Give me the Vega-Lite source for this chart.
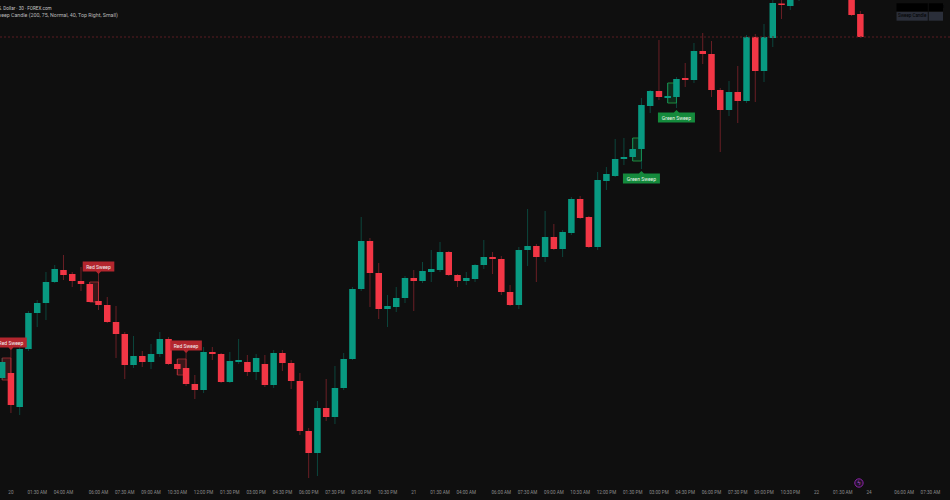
{
  "$schema": "https://vega.github.io/schema/vega-lite/v6.json",
  "width": 950,
  "height": 480,
  "autosize": {"type": "none"},
  "padding": {"left": 0, "top": 0, "right": 0, "bottom": 20},
  "background": "#0f0f0f",
  "config": {"view": {"stroke": null}, "font": "Roboto"},
  "title": {
    "text": "U.S. Dollar · 30 · FOREX.com",
    "subtitle": "Sweep Candle (200, 75, Normal, 40, Top Right, Small)",
    "anchor": "start", "frame": "group", "orient": "top", "offset": -23.5, "dx": -6,
    "fontSize": 4.6, "subtitleFontSize": 5.3, "subtitlePadding": 3, "font": "Roboto", "subtitleFont": "Roboto",
    "fontWeight": "normal", "color": "#c8c8c8", "subtitleColor": "#b8b8b8", "baseline": "bottom"
  },
  "datasets": {
    "candles": [
      {"i":-1,"o":102,"h":122,"l":100,"c":118},
      {"i":0,"o":107,"h":131,"l":67,"c":75},
      {"i":1,"o":73,"h":135,"l":65,"c":131},
      {"i":2,"o":131,"h":169,"l":129,"c":167},
      {"i":3,"o":167,"h":180,"l":153,"c":177},
      {"i":4,"o":177,"h":208,"l":160,"c":198},
      {"i":5,"o":198,"h":215,"l":197,"c":211},
      {"i":6,"o":210,"h":225,"l":200,"c":205},
      {"i":7,"o":206,"h":208,"l":193,"c":199},
      {"i":8,"o":199,"h":213,"l":189,"c":196},
      {"i":9,"o":196,"h":198,"l":178,"c":178},
      {"i":10,"o":179,"h":207,"l":170,"c":175},
      {"i":11,"o":175,"h":183,"l":157,"c":158},
      {"i":12,"o":158,"h":174,"l":122,"c":146},
      {"i":13,"o":146,"h":148,"l":101,"c":115},
      {"i":14,"o":115,"h":144,"l":112,"c":124},
      {"i":15,"o":124,"h":129,"l":113,"c":118},
      {"i":16,"o":118,"h":136,"l":111,"c":126},
      {"i":17,"o":126,"h":148,"l":123,"c":141},
      {"i":18,"o":141,"h":143,"l":115,"c":116},
      {"i":19,"o":116,"h":121,"l":105,"c":111},
      {"i":20,"o":112,"h":128,"l":94,"c":96},
      {"i":21,"o":96,"h":105,"l":81,"c":90},
      {"i":22,"o":90,"h":133,"l":87,"c":128},
      {"i":23,"o":128,"h":133,"l":120,"c":126},
      {"i":24,"o":126,"h":127,"l":97,"c":98},
      {"i":25,"o":98,"h":128,"l":97,"c":119},
      {"i":26,"o":118,"h":141,"l":116,"c":120},
      {"i":27,"o":118,"h":125,"l":104,"c":108},
      {"i":28,"o":108,"h":126,"l":100,"c":122},
      {"i":29,"o":116,"h":125,"l":93,"c":95},
      {"i":30,"o":95,"h":130,"l":92,"c":127},
      {"i":31,"o":127,"h":130,"l":109,"c":117},
      {"i":32,"o":117,"h":120,"l":91,"c":99},
      {"i":33,"o":99,"h":107,"l":45,"c":49},
      {"i":34,"o":49,"h":52,"l":2,"c":27},
      {"i":35,"o":27,"h":79,"l":4,"c":72},
      {"i":36,"o":72,"h":101,"l":59,"c":63},
      {"i":37,"o":63,"h":114,"l":56,"c":92},
      {"i":38,"o":92,"h":127,"l":90,"c":121},
      {"i":39,"o":121,"h":193,"l":120,"c":191},
      {"i":40,"o":191,"h":263,"l":189,"c":239},
      {"i":41,"o":239,"h":242,"l":173,"c":207},
      {"i":42,"o":207,"h":217,"l":161,"c":171},
      {"i":43,"o":171,"h":185,"l":153,"c":174},
      {"i":44,"o":173,"h":193,"l":168,"c":182},
      {"i":45,"o":182,"h":204,"l":177,"c":202},
      {"i":46,"o":202,"h":210,"l":169,"c":199},
      {"i":47,"o":199,"h":218,"l":197,"c":209},
      {"i":48,"o":208,"h":230,"l":198,"c":211},
      {"i":49,"o":210,"h":238,"l":208,"c":228},
      {"i":50,"o":228,"h":229,"l":204,"c":205},
      {"i":51,"o":205,"h":206,"l":193,"c":199},
      {"i":52,"o":199,"h":208,"l":195,"c":202},
      {"i":53,"o":201,"h":216,"l":198,"c":215},
      {"i":54,"o":215,"h":240,"l":211,"c":223},
      {"i":55,"o":223,"h":228,"l":206,"c":221},
      {"i":56,"o":221,"h":224,"l":185,"c":188},
      {"i":57,"o":188,"h":195,"l":174,"c":175},
      {"i":58,"o":175,"h":233,"l":171,"c":230},
      {"i":59,"o":230,"h":271,"l":214,"c":234},
      {"i":60,"o":234,"h":236,"l":198,"c":223},
      {"i":61,"o":223,"h":269,"l":218,"c":243},
      {"i":62,"o":243,"h":256,"l":230,"c":231},
      {"i":63,"o":231,"h":250,"l":223,"c":248},
      {"i":64,"o":247,"h":283,"l":245,"c":281},
      {"i":65,"o":281,"h":284,"l":261,"c":262},
      {"i":66,"o":263,"h":264,"l":232,"c":233},
      {"i":67,"o":233,"h":308,"l":230,"c":300},
      {"i":68,"o":299,"h":313,"l":290,"c":306},
      {"i":69,"o":304,"h":341,"l":303,"c":321},
      {"i":70,"o":321,"h":342,"l":315,"c":323},
      {"i":71,"o":323,"h":342,"l":319,"c":331},
      {"i":72,"o":331,"h":382,"l":311,"c":375},
      {"i":73,"o":374,"h":390,"l":367,"c":389},
      {"i":74,"o":389,"h":440,"l":380,"c":383},
      {"i":75,"o":382,"h":397,"l":377,"c":384},
      {"i":76,"o":383,"h":403,"l":372,"c":401},
      {"i":77,"o":402,"h":417,"l":393,"c":400},
      {"i":78,"o":400,"h":437,"l":397,"c":429},
      {"i":79,"o":429,"h":447,"l":416,"c":426},
      {"i":80,"o":426,"h":439,"l":383,"c":390},
      {"i":81,"o":390,"h":392,"l":328,"c":370},
      {"i":82,"o":370,"h":399,"l":364,"c":388},
      {"i":83,"o":388,"h":414,"l":357,"c":379},
      {"i":84,"o":379,"h":445,"l":377,"c":443},
      {"i":85,"o":443,"h":446,"l":378,"c":409},
      {"i":86,"o":409,"h":456,"l":398,"c":443},
      {"i":87,"o":442,"h":485,"l":433,"c":477},
      {"i":88,"o":476.5,"h":482,"l":461,"c":475},
      {"i":89,"o":474,"h":492,"l":470,"c":488},
      {"i":90,"o":487,"h":500,"l":479,"c":495},
      {"i":91,"o":495,"h":506,"l":485,"c":500},
      {"i":92,"o":500,"h":504,"l":490,"c":494},
      {"i":93,"o":494,"h":508,"l":489,"c":503},
      {"i":94,"o":503,"h":510,"l":492,"c":497},
      {"i":95,"o":497,"h":512,"l":490,"c":506},
      {"i":96,"o":505,"h":508,"l":464,"c":465},
      {"i":97,"o":466,"h":469,"l":442,"c":443}
    ],
    "boxes": [
      {"i":-1,"i2":0,"top":122,"bot":100,"t":"red"},
      {"i":9,"i2":10,"top":198,"bot":178,"t":"red"},
      {"i":19,"i2":20,"top":121,"bot":105,"t":"red"},
      {"i":71,"i2":72,"top":342,"bot":319,"t":"green"},
      {"i":75,"i2":76,"top":397,"bot":377,"t":"green"}
    ],
    "labels": [
      {"i":0,"p":130,"t":"Red Sweep"},
      {"i":10,"p":206,"t":"Red Sweep"},
      {"i":20,"p":127,"t":"Red Sweep"},
      {"i":72,"p":309,"t":"Green Sweep"},
      {"i":76,"p":370,"t":"Green Sweep"}
    ],
    "ticks": [
      {"i":0,"t":"20"},{"i":3,"t":"01:30 AM"},{"i":6,"t":"04:00 AM"},{"i":10,"t":"06:00 AM"},{"i":13,"t":"07:30 AM"},
      {"i":16,"t":"09:00 AM"},{"i":19,"t":"10:30 AM"},{"i":22,"t":"12:00 PM"},{"i":25,"t":"01:30 PM"},{"i":28,"t":"03:00 PM"},
      {"i":31,"t":"04:30 PM"},{"i":34,"t":"06:00 PM"},{"i":37,"t":"07:30 PM"},{"i":40,"t":"09:00 PM"},{"i":43,"t":"10:30 PM"},
      {"i":46,"t":"21"},{"i":49,"t":"01:30 AM"},{"i":52,"t":"04:00 AM"},{"i":56,"t":"06:00 AM"},{"i":59,"t":"07:30 AM"},
      {"i":62,"t":"09:00 AM"},{"i":65,"t":"10:30 AM"},{"i":68,"t":"12:00 PM"},{"i":71,"t":"01:30 PM"},{"i":74,"t":"03:00 PM"},
      {"i":77,"t":"04:30 PM"},{"i":80,"t":"06:00 PM"},{"i":83,"t":"07:30 PM"},{"i":86,"t":"09:00 PM"},{"i":89,"t":"10:30 PM"},
      {"i":92,"t":"22"},{"i":95,"t":"01:30 AM"},{"i":98,"t":"24"},{"i":102,"t":"06:00 AM"},{"i":105,"t":"07:30 AM"}
    ]
  },
  "layer": [
    {
      "data": {"name": "boxes"},
      "mark": {"type": "rect", "strokeWidth": 1},
      "encoding": {
        "x": {"field": "i", "type": "quantitative", "scale": {"domain": [-0.678, 106.667], "nice": false, "zero": false}, "axis": null},
        "x2": {"field": "i2"},
        "y": {"field": "top", "type": "quantitative", "scale": {"domain": [0, 480], "nice": false, "zero": false}, "axis": null},
        "y2": {"field": "bot"},
        "fill": {"field": "t", "type": "nominal", "scale": {"domain": ["red", "green"], "range": ["#3a1719", "#0f2a1b"]}, "legend": null},
        "stroke": {"field": "t", "type": "nominal", "scale": {"domain": ["red", "green"], "range": ["#8c282d", "#1e8a3c"]}, "legend": null}
      }
    },
    {
      "data": {"name": "candles"},
      "mark": {"type": "rule", "strokeWidth": 1, "clip": true, "opacity": 0.4},
      "encoding": {
        "x": {"field": "i", "type": "quantitative", "scale": {"domain": [-0.678, 106.667], "nice": false, "zero": false}, "axis": null},
        "y": {"field": "l", "type": "quantitative", "scale": {"domain": [0, 480], "nice": false, "zero": false}, "axis": null},
        "y2": {"field": "h"},
        "color": {"condition": {"test": "datum.c >= datum.o", "value": "#089981"}, "value": "#f23645"}
      }
    },
    {
      "data": {"name": "candles"},
      "mark": {"type": "bar", "size": 6.5, "clip": true},
      "encoding": {
        "x": {"field": "i", "type": "quantitative", "scale": {"domain": [-0.678, 106.667], "nice": false, "zero": false}, "axis": null},
        "y": {"field": "o", "type": "quantitative", "scale": {"domain": [0, 480], "nice": false, "zero": false}, "axis": null},
        "y2": {"field": "c"},
        "color": {"condition": {"test": "datum.c >= datum.o", "value": "#089981"}, "value": "#f23645"}
      }
    },
    {
      "data": {"values": [{}]},
      "mark": {"type": "rule", "strokeDash": [2, 2], "strokeWidth": 1, "color": "#5a1c22"},
      "encoding": {
        "y": {"datum": 443, "type": "quantitative", "scale": {"domain": [0, 480], "nice": false, "zero": false}, "axis": null}
      }
    },
    {
      "data": {"name": "ticks"},
      "mark": {"type": "text", "fontSize": 4.6, "font": "Roboto", "color": "#8c8c8c", "baseline": "middle", "align": "center"},
      "encoding": {
        "x": {"field": "i", "type": "quantitative", "scale": {"domain": [-0.678, 106.667], "nice": false, "zero": false}, "axis": null},
        "y": {"datum": -13, "type": "quantitative", "scale": {"domain": [0, 480], "nice": false, "zero": false}, "axis": null},
        "text": {"field": "t"}
      }
    },
    {
      "data": {"name": "labels"},
      "transform": [{"filter": "datum.t == 'Red Sweep'"}],
      "mark": {"type": "point", "filled": true, "size": 1000, "opacity": 1, "color": "#b3262e",
        "shape": "M-1,-0.79L1,-0.79L1,-0.16L0.16,-0.16L0,0L-0.16,-0.16L-1,-0.16Z"},
      "encoding": {
        "x": {"field": "i", "type": "quantitative", "scale": {"domain": [-0.678, 106.667], "nice": false, "zero": false}, "axis": null},
        "y": {"field": "p", "type": "quantitative", "scale": {"domain": [0, 480], "nice": false, "zero": false}, "axis": null}
      }
    },
    {
      "data": {"name": "labels"},
      "transform": [{"filter": "datum.t == 'Green Sweep'"}],
      "mark": {"type": "point", "filled": true, "size": 1369, "opacity": 1, "color": "#148a3c",
        "shape": "M-1,0.14L-0.14,0.14L0,0L0.14,0.14L1,0.14L1,0.68L-1,0.68Z"},
      "encoding": {
        "x": {"field": "i", "type": "quantitative", "scale": {"domain": [-0.678, 106.667], "nice": false, "zero": false}, "axis": null},
        "y": {"field": "p", "type": "quantitative", "scale": {"domain": [0, 480], "nice": false, "zero": false}, "axis": null}
      }
    },
    {
      "data": {"name": "labels"},
      "transform": [{"filter": "datum.t == 'Red Sweep'"}],
      "mark": {"type": "text", "fontSize": 5, "font": "Roboto", "color": "#f2f2f2", "baseline": "middle", "align": "center", "dy": -7.5},
      "encoding": {
        "x": {"field": "i", "type": "quantitative", "scale": {"domain": [-0.678, 106.667], "nice": false, "zero": false}, "axis": null},
        "y": {"field": "p", "type": "quantitative", "scale": {"domain": [0, 480], "nice": false, "zero": false}, "axis": null},
        "text": {"field": "t"}
      }
    },
    {
      "data": {"name": "labels"},
      "transform": [{"filter": "datum.t == 'Green Sweep'"}],
      "mark": {"type": "text", "fontSize": 5, "font": "Roboto", "color": "#e8f5e9", "baseline": "middle", "align": "center", "dy": 7.6},
      "encoding": {
        "x": {"field": "i", "type": "quantitative", "scale": {"domain": [-0.678, 106.667], "nice": false, "zero": false}, "axis": null},
        "y": {"field": "p", "type": "quantitative", "scale": {"domain": [0, 480], "nice": false, "zero": false}, "axis": null},
        "text": {"field": "t"}
      }
    },
    {
      "data": {"values": [{"c1": 101.13, "c2": 104.7, "r1": 469, "r2": 476.7, "k": "h"}, {"c1": 104.81, "c2": 106.44, "r1": 469, "r2": 476.7, "k": "h"}, {"c1": 101.13, "c2": 104.7, "r1": 459.3, "r2": 468, "k": "r"}, {"c1": 104.81, "c2": 106.44, "r1": 459.3, "r2": 468, "k": "r"}]},
      "mark": {"type": "rect"},
      "encoding": {
        "x": {"field": "c1", "type": "quantitative", "scale": {"domain": [-0.678, 106.667], "nice": false, "zero": false}, "axis": null},
        "x2": {"field": "c2"},
        "y": {"field": "r1", "type": "quantitative", "scale": {"domain": [0, 480], "nice": false, "zero": false}, "axis": null},
        "y2": {"field": "r2"},
        "color": {"field": "k", "type": "nominal", "scale": {"domain": ["h", "r"], "range": ["#000000", "#2a2e39"]}, "legend": null}
      }
    },
    {
      "data": {"values": [{"tx": "Patterns", "cx": 101.4, "cy": 472.8, "k": "w"}, {"tx": "Green", "cx": 105.2, "cy": 472.8, "k": "w"}, {"tx": "Sweep Candle", "cx": 101.3, "cy": 463.6, "k": "w"}, {"tx": "1", "cx": 105.55, "cy": 463.6, "k": "g"}]},
      "mark": {"type": "text", "fontSize": 4.5, "font": "Roboto", "baseline": "middle", "align": "left"},
      "encoding": {
        "x": {"field": "cx", "type": "quantitative", "scale": {"domain": [-0.678, 106.667], "nice": false, "zero": false}, "axis": null},
        "y": {"field": "cy", "type": "quantitative", "scale": {"domain": [0, 480], "nice": false, "zero": false}, "axis": null},
        "text": {"field": "tx"},
        "color": {"field": "k", "type": "nominal", "scale": {"domain": ["w", "g"], "range": ["#e0e3eb", "#4caf50"]}, "legend": null}
      }
    },
    {
      "data": {"values": [{}]},
      "mark": {"type": "point", "shape": "circle", "size": 70, "filled": false, "stroke": "#8e24aa", "strokeWidth": 1, "fill": "#24122b", "fillOpacity": 1, "opacity": 1},
      "encoding": {
        "x": {"datum": 96.84, "type": "quantitative", "scale": {"domain": [-0.678, 106.667], "nice": false, "zero": false}, "axis": null},
        "y": {"datum": -3, "type": "quantitative", "scale": {"domain": [0, 480], "nice": false, "zero": false}, "axis": null}
      }
    },
    {
      "data": {"values": [{}]},
      "mark": {"type": "text", "text": "ϟ", "fontSize": 6, "color": "#b052c8", "baseline": "middle", "align": "center", "font": "DejaVu Sans"},
      "encoding": {
        "x": {"datum": 96.84, "type": "quantitative", "scale": {"domain": [-0.678, 106.667], "nice": false, "zero": false}, "axis": null},
        "y": {"datum": -3, "type": "quantitative", "scale": {"domain": [0, 480], "nice": false, "zero": false}, "axis": null}
      }
    }
  ]
}
